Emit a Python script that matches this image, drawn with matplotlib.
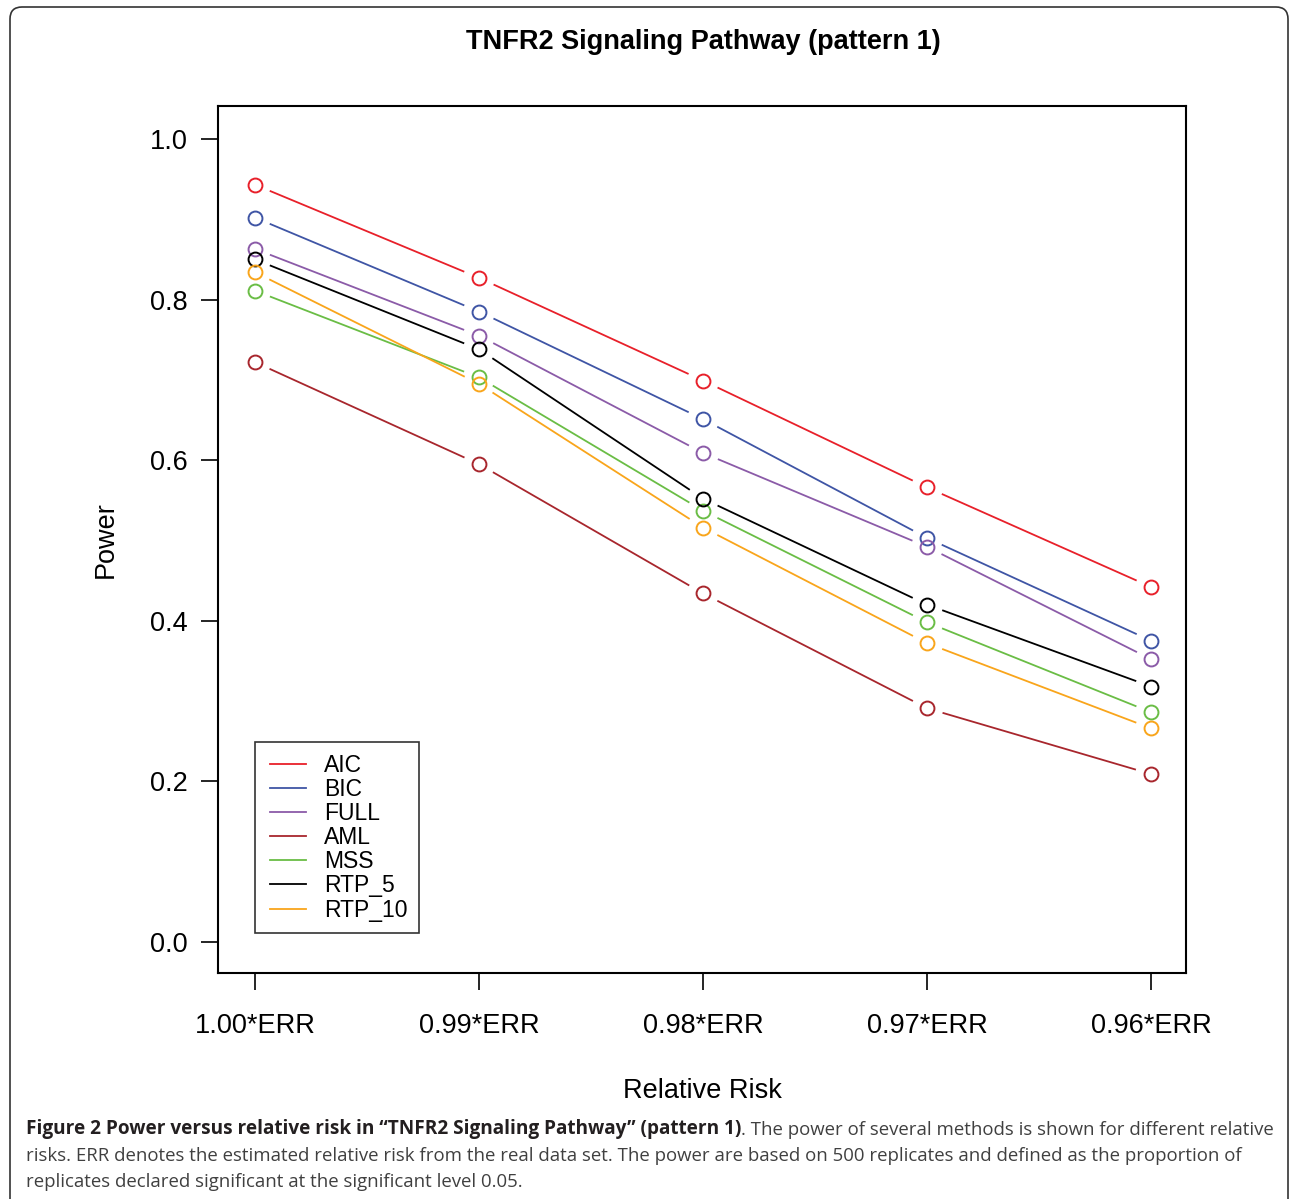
import matplotlib
matplotlib.use("Agg")
import matplotlib.pyplot as plt
import numpy as np
from matplotlib.lines import Line2D
from matplotlib.patches import FancyBboxPatch
from matplotlib.transforms import IdentityTransform
from matplotlib.legend_handler import HandlerBase

plt.rcParams['font.family'] = ['Liberation Sans', 'DejaVu Sans']

x_labels = ["1.00*ERR", "0.99*ERR", "0.98*ERR", "0.97*ERR", "0.96*ERR"]
methods = ["AIC", "BIC", "FULL", "AML", "MSS", "RTP_5", "RTP_10"]
aic = [0.943, 0.827, 0.699, 0.566, 0.442]
bic = [0.902, 0.785, 0.651, 0.503, 0.375]
full = [0.863, 0.755, 0.609, 0.492, 0.352]
aml = [0.722, 0.595, 0.434, 0.291, 0.209]
mss = [0.811, 0.703, 0.537, 0.398, 0.286]
rtp5 = [0.850, 0.738, 0.552, 0.420, 0.318]
rtp10 = [0.834, 0.695, 0.516, 0.372, 0.266]
series = [aic, bic, full, aml, mss, rtp5, rtp10]
colors = ["#E8202A", "#3F55A5", "#8B5BA8", "#A8262D", "#6ABD45", "#000000", "#F9A51B"]

W, H, DPI = 1290, 1199, 100
fig = plt.figure(figsize=(W / DPI, H / DPI), dpi=DPI)
ax = fig.add_axes([218 / W, 1 - 973 / H, (1186 - 218) / W, (973 - 106) / H])

xs = np.arange(1, len(x_labels) + 1)
ax.set_xlim(1 - 0.165, 5 + 0.155)
ax.set_ylim(-0.0386, 1.041)

gap = 16.0
for vals, col in zip(series, colors):
    pts = ax.transData.transform(np.column_stack([xs, vals]))
    for i in range(len(pts) - 1):
        p0, p1 = pts[i], pts[i + 1]
        d = p1 - p0
        u = d / np.hypot(*d)
        seg = ax.transData.inverted().transform(np.vstack([p0 + u * gap, p1 - u * gap]))
        ax.plot(seg[:, 0], seg[:, 1], color=col, lw=1.3, solid_capstyle='butt')
    ax.plot(xs, vals, linestyle='none', marker='o', ms=10, mfc='none',
            mec=col, mew=1.4)

FS = 19.5
ax.set_xticks(xs)
ax.set_xticklabels(x_labels, fontsize=FS)
ax.set_yticks([0.0, 0.2, 0.4, 0.6, 0.8, 1.0])
ax.set_yticklabels(["0.0", "0.2", "0.4", "0.6", "0.8", "1.0"], fontsize=FS)
ax.tick_params(axis='both', direction='out', length=12, width=1.2, color='black')
ax.tick_params(axis='x', pad=17)
ax.tick_params(axis='y', pad=10)
for s in ax.spines.values():
    s.set_linewidth(1.5)

ax.set_xlabel("Relative Risk", fontsize=FS, labelpad=28)
ax.set_ylabel("Power", fontsize=FS, labelpad=22)


class GapHandler(HandlerBase):
    def create_artists(self, legend, orig_handle, xdescent, ydescent,
                       width, height, fontsize, trans):
        y = height / 2 - ydescent
        ln = Line2D([0.1 * width - xdescent, width - xdescent], [y, y],
                    color=orig_handle.get_color(),
                    lw=orig_handle.get_linewidth(), transform=trans)
        return [ln]


handles = [Line2D([], [], color=c, lw=1.3) for c in colors]
leg = ax.legend(handles, methods, loc='lower left',
                bbox_to_anchor=((255 - 218) / 968, (973 - 933) / 867),
                fontsize=16.5, frameon=True, fancybox=False, edgecolor='black',
                handlelength=1.72, handletextpad=0.78, labelspacing=0.05,
                borderpad=0.5, borderaxespad=0,
                handler_map={Line2D: GapHandler()})
leg.get_frame().set_linewidth(1.2)

fig.text(703 / W, 1 - 42 / H, "TNFR2 Signaling Pathway (pattern 1)",
         ha='center', va='center', fontsize=FS, fontweight='bold')

# outer frame
frame = FancyBboxPatch((10, -20), 1278, H - 7 + 20,
                       boxstyle="round,pad=0,rounding_size=12",
                       transform=IdentityTransform(), fill=False,
                       edgecolor='#333333', lw=1.2)
fig.patches.append(frame)

cap_font = ['Open Sans', 'DejaVu Sans']
t1 = fig.text(26 / W, 1 - 1129 / H,
              "Figure 2 Power versus relative risk in \u201cTNFR2 Signaling Pathway\u201d (pattern 1)",
              ha='left', va='center', fontsize=13.65, fontweight='bold',
              family=cap_font, color='#231F20')
fig.add_artist(plt.Annotation(
    ". The power of several methods is shown for different relative",
    xy=(1, 0), xycoords=t1, xytext=(0, 0), textcoords='offset points',
    ha='left', va='bottom', fontsize=13.4, family=cap_font, color='#404040'))
fig.text(26 / W, 1 - 1156 / H,
         "risks. ERR denotes the estimated relative risk from the real data set. The power are based on 500 replicates and defined as the proportion of",
         ha='left', va='center', fontsize=13.4, family=cap_font, color='#404040')
fig.text(26 / W, 1 - 1182 / H,
         "replicates declared significant at the significant level 0.05.",
         ha='left', va='center', fontsize=13.4, family=cap_font, color='#404040')

fig.savefig("out.png", dpi=DPI)
